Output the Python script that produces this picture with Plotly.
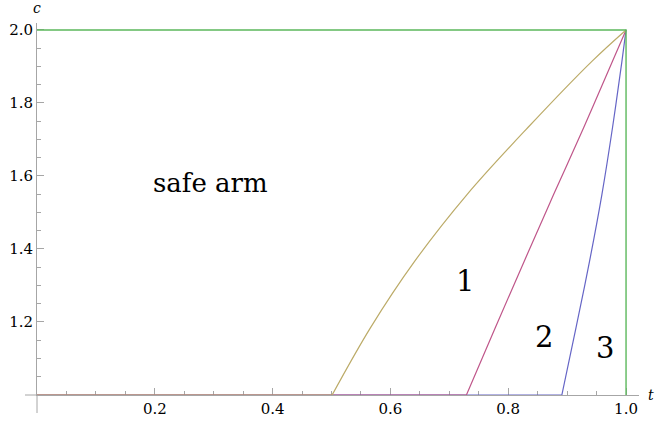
import plotly.graph_objects as go

# ---- data ----
curve1_t = [0.501, 0.566, 0.641, 0.730, 0.833, 0.942, 1.0]
curve1_c = [1.0, 1.184, 1.366, 1.549, 1.732, 1.914, 2.0]

curve2_t = [0.729, 0.778, 0.827, 0.877, 0.928, 0.977, 1.0]
curve2_c = [1.0, 1.184, 1.366, 1.549, 1.732, 1.914, 2.0]

curve3_t = [0.891, 0.915, 0.938, 0.959, 0.977, 0.993, 1.0]
curve3_c = [1.0, 1.184, 1.366, 1.549, 1.732, 1.914, 2.0]

boundary_t = [0.0, 1.0, 1.0]
boundary_c = [2.0, 2.0, 1.0]

baseline_c = 1.0
x_tickvals = [0.2, 0.4, 0.6, 0.8, 1.0]
x_ticktext = ["0.2", "0.4", "0.6", "0.8", "1.0"]
y_tickvals = [1.2, 1.4, 1.6, 1.8, 2.0]
y_ticktext = ["1.2", "1.4", "1.6", "1.8", "2.0"]

labels = ["safe arm", "1", "2", "3"]
label_t = [0.295, 0.727, 0.861, 0.965]
label_c = [1.581, 1.312, 1.158, 1.128]
label_size = [26, 29, 29, 29]

col_olive = "#bcab68"
col_mag = "#bf568a"
col_blue = "#6565c6"
col_green = "#5cb85c"
axis_col = "#a6a6a6"
serif = "DejaVu Serif"

fig = go.Figure()
for t, c, col in [(curve3_t, curve3_c, col_blue),
                  (curve2_t, curve2_c, col_mag),
                  (curve1_t, curve1_c, col_olive)]:
    fig.add_trace(go.Scatter(x=[0.0, t[0]], y=[baseline_c, c[0]], mode="lines",
                             line=dict(color=col, width=1.2), hoverinfo="skip"))
    fig.add_trace(go.Scatter(x=t, y=c, mode="lines",
                             line=dict(color=col, width=1.2, shape="spline", smoothing=1.0),
                             hoverinfo="skip"))
fig.add_trace(go.Scatter(x=boundary_t, y=boundary_c, mode="lines",
                         line=dict(color=col_green, width=1.4), hoverinfo="skip"))

for txt, t, c, s in zip(labels, label_t, label_c, label_size):
    fig.add_annotation(x=t, y=c, text=txt, showarrow=False,
                       font=dict(family=serif, size=s, color="black"))

W, H = 657, 422
ml, mt = 37, 23
pw, ph = 602, 372
mr, mb = W - ml - pw, H - mt - ph

fig.add_annotation(xref="paper", yref="paper", x=0, y=1 + (mt - 8) / ph,
                   xanchor="center", yanchor="middle",
                   text="<i>c</i>", showarrow=False,
                   font=dict(family=serif, size=14, color="black"))
fig.add_annotation(xref="paper", yref="paper", x=(651 - ml) / pw, y=0,
                   xanchor="center", yanchor="middle",
                   text="<i>t</i>", showarrow=False,
                   font=dict(family=serif, size=14, color="black"))

fig.add_shape(type="line", xref="paper", yref="paper", x0=-12 / pw, x1=0, y0=0, y1=0,
              line=dict(color=axis_col, width=1))
fig.add_shape(type="line", xref="paper", yref="paper", x0=0, x1=0, y0=-18 / ph, y1=0,
              line=dict(color=axis_col, width=1))

common = dict(showgrid=False, zeroline=False, showline=True, linecolor=axis_col,
              linewidth=1, ticks="inside", ticklen=7, tickcolor=axis_col, tickwidth=1,
              tickfont=dict(family=serif, size=15, color="black"),
              layer="below traces", automargin=False)
fig.update_xaxes(range=[0, 1.022], tickvals=x_tickvals, ticktext=x_ticktext,
                 minor=dict(ticks="inside", ticklen=4, tickcolor=axis_col, dtick=0.05,
                            tick0=0, showgrid=False), **common)
fig.update_yaxes(range=[1, 2.019], tickvals=y_tickvals, ticktext=y_ticktext,
                 minor=dict(ticks="inside", ticklen=4, tickcolor=axis_col, dtick=0.05,
                            tick0=1, showgrid=False), **common)

fig.update_layout(width=W, height=H, margin=dict(l=ml, r=mr, t=mt, b=mb),
                  plot_bgcolor="white", paper_bgcolor="white", showlegend=False,
                  font=dict(family=serif))

fig.write_html("out.html", config={"displayModeBar": False},
               post_script="document.body.style.margin='0';")
